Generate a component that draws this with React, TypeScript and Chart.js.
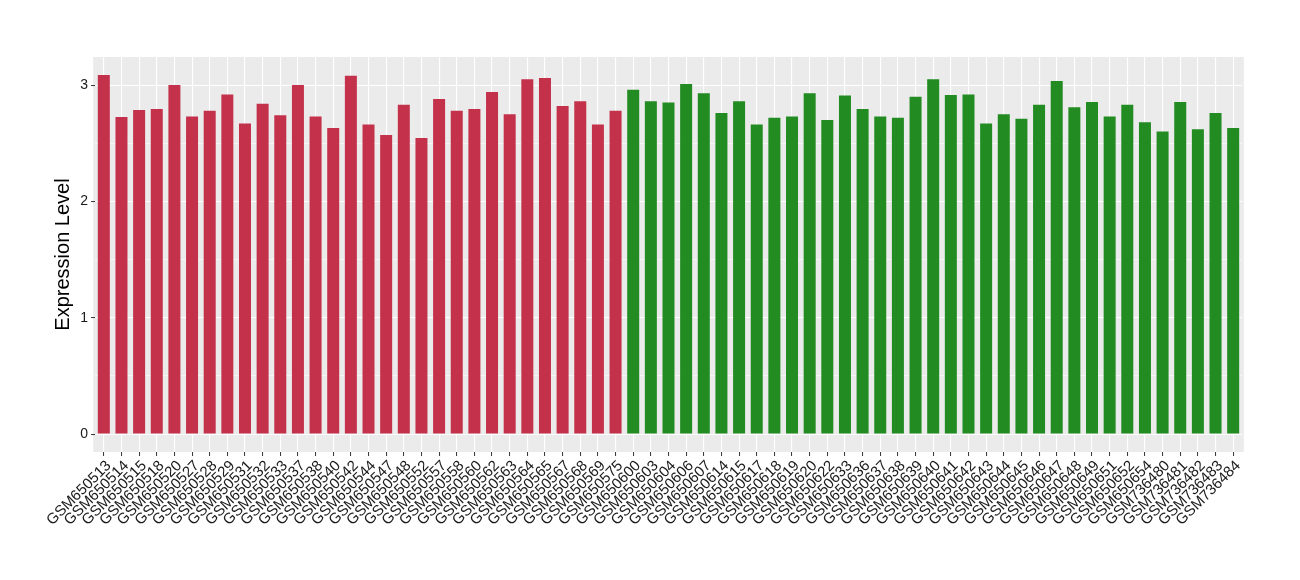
import React, { useEffect, useRef } from "react";
import { Chart, registerables } from "chart.js";

Chart.register(...registerables);

const groupASamples = [
  "GSM650513", "GSM650514", "GSM650515", "GSM650518", "GSM650520", "GSM650527",
  "GSM650528", "GSM650529", "GSM650531", "GSM650532", "GSM650533", "GSM650537",
  "GSM650538", "GSM650540", "GSM650542", "GSM650544", "GSM650547", "GSM650548",
  "GSM650552", "GSM650557", "GSM650558", "GSM650560", "GSM650562", "GSM650563",
  "GSM650564", "GSM650565", "GSM650567", "GSM650568", "GSM650569", "GSM650575",
];
const groupAValues = [
  3.087, 2.726, 2.786, 2.795, 3.0, 2.73,
  2.78, 2.92, 2.67, 2.84, 2.74, 3.0,
  2.73, 2.63, 3.08, 2.66, 2.57, 2.83,
  2.545, 2.88, 2.78, 2.795, 2.94, 2.75,
  3.05, 3.06, 2.82, 2.86, 2.66, 2.78,
];

const groupBSamples = [
  "GSM650600", "GSM650603", "GSM650604", "GSM650606", "GSM650607", "GSM650614",
  "GSM650615", "GSM650617", "GSM650618", "GSM650619", "GSM650620", "GSM650622",
  "GSM650633", "GSM650636", "GSM650637", "GSM650638", "GSM650639", "GSM650640",
  "GSM650641", "GSM650642", "GSM650643", "GSM650644", "GSM650645", "GSM650646",
  "GSM650647", "GSM650648", "GSM650649", "GSM650651", "GSM650652", "GSM650654",
  "GSM736480", "GSM736481", "GSM736482", "GSM736483", "GSM736484",
];
const groupBValues = [
  2.96, 2.86, 2.85, 3.01, 2.93, 2.76,
  2.86, 2.66, 2.72, 2.73, 2.93, 2.70,
  2.91, 2.795, 2.73, 2.72, 2.90, 3.05,
  2.915, 2.92, 2.67, 2.75, 2.71, 2.83,
  3.035, 2.81, 2.855, 2.73, 2.83, 2.68,
  2.60, 2.855, 2.62, 2.76, 2.63,
];

const yTickValues = [0, 0.5, 1, 1.5, 2, 2.5, 3];

const COLOR_A = "#C4314B";
const COLOR_B = "#228B22";
const FONT = "'Liberation Sans', Arial, Helvetica, sans-serif";

const panelBackground = {
  id: "panelBackground",
  beforeDraw(chart: any) {
    const { ctx, chartArea } = chart;
    const n = chart.data.labels.length;
    const step = (chartArea.right - chartArea.left) / n;
    const ext = step * 0.1;
    ctx.save();
    ctx.fillStyle = "#EBEBEB";
    ctx.fillRect(
      chartArea.left - ext,
      chartArea.top,
      chartArea.right - chartArea.left + 2 * ext,
      chartArea.bottom - chartArea.top
    );
    ctx.restore();
  },
};

export default function App() {
  const canvasRef = useRef<HTMLCanvasElement | null>(null);

  useEffect(() => {
    if (!canvasRef.current) return;
    const labels = [...groupASamples, ...groupBSamples];
    const values = [...groupAValues, ...groupBValues];
    const colors = [
      ...groupASamples.map(() => COLOR_A),
      ...groupBSamples.map(() => COLOR_B),
    ];
    const chart = new Chart(canvasRef.current, {
      type: "bar",
      data: {
        labels,
        datasets: [
          {
            data: values,
            backgroundColor: colors,
            borderWidth: 0,
            barPercentage: 0.68,
            categoryPercentage: 1,
          },
        ],
      },
      plugins: [panelBackground],
      options: {
        responsive: false,
        animation: false,
        devicePixelRatio: 1,
        layout: { padding: { top: 57, right: 58, left: 0, bottom: 0 } },
        plugins: {
          legend: { display: false },
          tooltip: { enabled: false },
        },
        scales: {
          x: {
            type: "category",
            offset: true,
            afterFit(scale: any) {
              scale.height = 128;
            },
            grid: {
              offset: false,
              color: "#FFFFFF",
              lineWidth: 1.1,
              tickColor: "#333333",
              tickLength: 4,
              tickWidth: 1,
            },
            border: { display: false },
            ticks: {
              autoSkip: false,
              maxRotation: 45,
              minRotation: 45,
              padding: 1,
              labelOffset: 5,
              color: "#1a1a1a",
              font: { family: FONT, size: 15 },
            },
          },
          y: {
            min: -0.1543,
            max: 3.2413,
            afterFit(scale: any) {
              scale.width = 95;
            },
            afterBuildTicks(scale: any) {
              scale.ticks = yTickValues.map((v) => ({ value: v }));
            },
            grid: {
              color: "#FFFFFF",
              lineWidth: (ctx: any) =>
                ctx.tick && ctx.tick.value % 1 === 0 ? 1.1 : 0.55,
              tickColor: (ctx: any) =>
                ctx.tick && ctx.tick.value % 1 === 0 ? "#333333" : "rgba(0,0,0,0)",
              tickLength: 4,
              tickWidth: 1,
            },
            border: { display: false },
            ticks: {
              padding: 3,
              color: "#1a1a1a",
              font: { family: FONT, size: 14 },
              callback: (v: any) => (Number(v) % 1 === 0 ? String(v) : ""),
            },
            title: {
              display: true,
              text: "Expression Level",
              color: "#000000",
              font: { family: FONT, size: 20 },
              padding: { top: 51, bottom: 0 },
            },
          },
        },
      },
    });
    return () => chart.destroy();
  }, []);

  return (
    <div style={{ position: "absolute", left: 0, top: 0, width: 1300, height: 580, background: "#FFFFFF" }}>
      <canvas ref={canvasRef} width={1300} height={580} />
    </div>
  );
}
